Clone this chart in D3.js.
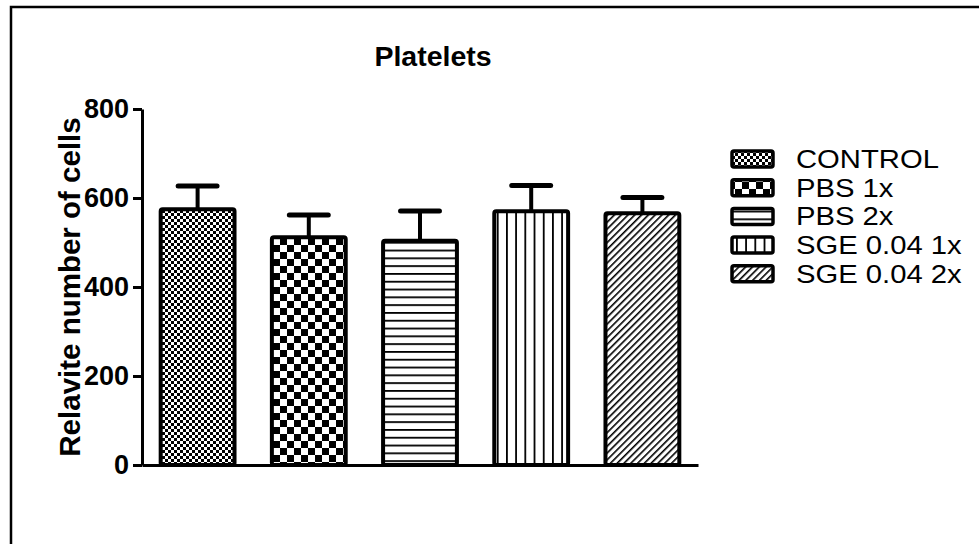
<!DOCTYPE html>
<html>
<head>
<meta charset="utf-8">
<script src="https://cdn.jsdelivr.net/npm/d3@7"></script>
<style>
  html, body { margin: 0; padding: 0; background: #fff; }
  svg { display: block; font-family: "Liberation Sans", Arial, sans-serif; }
</style>
</head>
<body>
<svg id="chart" width="979" height="544"></svg>
<script>
// Platelet counts per treatment group (mean and SEM)
const groups = ["CONTROL", "PBS 1x", "PBS 2x", "SGE 0.04 1x", "SGE 0.04 2x"];
const means  = [575, 512, 504, 570, 566];
const sems   = [52, 50, 67, 58, 35];
const patternIds = ["pCheckFine", "pCheckBig", "pHoriz", "pVert", "pDiag"];
const yTicks = [0, 200, 400, 600, 800];

const svg = d3.select("#chart");
const defs = svg.append("defs");

// Fill patterns, one per group
function checker(id, s) {
  const p = defs.append("pattern").attr("id", id).attr("patternUnits", "userSpaceOnUse")
    .attr("width", 2 * s).attr("height", 2 * s);
  p.append("rect").attr("width", 2 * s).attr("height", 2 * s).attr("fill", "#fff");
  p.append("rect").attr("width", s).attr("height", s).attr("fill", "#000");
  p.append("rect").attr("x", s).attr("y", s).attr("width", s).attr("height", s).attr("fill", "#000");
}
checker("pCheckFine", 3);
checker("pCheckBig", 7);
{
  const p = defs.append("pattern").attr("id", "pHoriz").attr("patternUnits", "userSpaceOnUse")
    .attr("width", 8).attr("height", 7.8);
  p.append("rect").attr("width", 8).attr("height", 7.8).attr("fill", "#fff");
  p.append("rect").attr("y", 0).attr("width", 8).attr("height", 1.8).attr("fill", "#000");
}
{
  const p = defs.append("pattern").attr("id", "pVert").attr("patternUnits", "userSpaceOnUse")
    .attr("width", 9.2).attr("height", 8);
  p.append("rect").attr("width", 9.2).attr("height", 8).attr("fill", "#fff");
  p.append("rect").attr("x", 0).attr("width", 1.8).attr("height", 8).attr("fill", "#000");
}
{
  const p = defs.append("pattern").attr("id", "pDiag").attr("patternUnits", "userSpaceOnUse")
    .attr("width", 4.8).attr("height", 4.8).attr("patternTransform", "rotate(45)");
  p.append("rect").attr("width", 4.8).attr("height", 4.8).attr("fill", "#fff");
  p.append("rect").attr("x", 0).attr("width", 1.6).attr("height", 4.8).attr("fill", "#000");
}

// Outer frame (left and top edges)
svg.append("path").attr("d", "M11,544 V7 H979").attr("fill", "none")
  .attr("stroke", "#000").attr("stroke-width", 2.5);

// Scales
const x = d3.scaleBand().domain(groups).range([142, 698]).paddingInner(0.3).paddingOuter(0.15);
const y = d3.scaleLinear().domain([0, 800]).range([465, 109]);

// Error bars (drawn behind the bars)
const eb = svg.append("g");
groups.forEach((g, i) => {
  const cx = x(g) + x.bandwidth() / 2;
  eb.append("line").attr("x1", cx).attr("x2", cx)
    .attr("y1", y(means[i])).attr("y2", y(means[i] + sems[i]))
    .attr("stroke", "#000").attr("stroke-width", 4);
  eb.append("line").attr("x1", cx - x.bandwidth() / 4).attr("x2", cx + x.bandwidth() / 4)
    .attr("y1", y(means[i] + sems[i])).attr("y2", y(means[i] + sems[i]))
    .attr("stroke", "#000").attr("stroke-width", 5).attr("stroke-linecap", "round");
});

// Bars
svg.append("g").selectAll("rect").data(groups).join("rect")
  .attr("x", d => x(d) + 2)
  .attr("width", x.bandwidth() - 4)
  .attr("y", (d, i) => y(means[i]))
  .attr("height", (d, i) => y(0) - y(means[i]))
  .attr("fill", (d, i) => `url(#${patternIds[i]})`)
  .attr("stroke", "#000").attr("stroke-width", 4).attr("rx", 2);

// Y axis
const yAxis = svg.append("g").attr("transform", "translate(142,0)")
  .call(d3.axisLeft(y).tickValues(yTicks).tickSize(9).tickSizeOuter(0).tickPadding(4));
yAxis.select(".domain").attr("stroke-width", 3);
yAxis.selectAll(".tick line").attr("stroke-width", 3);
yAxis.selectAll(".tick text").attr("font-size", 27).attr("font-weight", "bold")
  .attr("font-family", "Liberation Sans, Arial, sans-serif").attr("fill", "#000");

// X axis baseline
const xAxis = svg.append("g").attr("transform", `translate(0,${y(0)})`)
  .call(d3.axisBottom(x).tickSize(0).tickSizeOuter(0).tickFormat(""));
xAxis.select(".domain").attr("stroke-width", 3);

// Title and axis title
svg.append("text").attr("x", 433).attr("y", 66).attr("text-anchor", "middle")
  .attr("font-size", 28.5).attr("font-weight", "bold").text("Platelets");
svg.append("text").attr("transform", `translate(80,${(y(0) + y(800)) / 2}) rotate(-90)`)
  .attr("text-anchor", "middle").attr("font-size", 29.5).attr("font-weight", "bold")
  .text("Relavite number of cells");

// Legend: swatch plus horizontally widened label
const leg = svg.append("g");
groups.forEach((g, i) => {
  const cy = 159 + i * 28.7;
  leg.append("rect").attr("x", 732).attr("y", cy - 8).attr("width", 41).attr("height", 16)
    .attr("fill", `url(#${patternIds[i]})`).attr("stroke", "#000").attr("stroke-width", 3.5).attr("rx", 2);
  leg.append("text").attr("transform", `translate(796,${cy + 9}) scale(1.17,1)`)
    .attr("font-size", 25).text(g);
});
</script>
</body>
</html>
